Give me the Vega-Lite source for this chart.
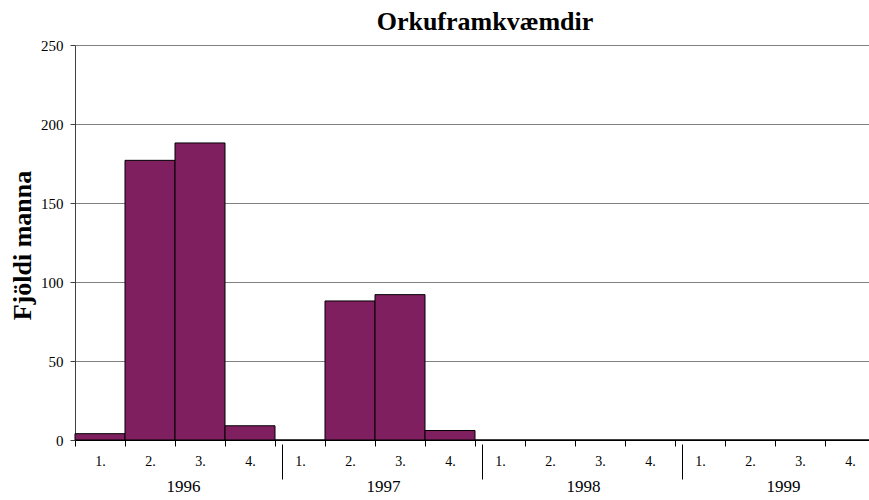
{
  "$schema": "https://vega.github.io/schema/vega-lite/v6.json",
  "width": 800,
  "height": 395,
  "autosize": {"type": "none"},
  "padding": {"left": 75, "top": 45, "right": -6, "bottom": 60},
  "background": "white",
  "config": {"font": "Liberation Serif", "view": {"stroke": null}},
  "title": {
    "text": "Orkuframkvæmdir",
    "font": "Liberation Serif",
    "fontSize": 26,
    "fontWeight": "bold",
    "color": "black",
    "offset": -18,
    "baseline": "alphabetic",
    "dx": 10
  },
  "data": {
    "values": [
      {"period": "1996-1", "year": "1996", "value": 4},
      {"period": "1996-2", "year": "1996", "value": 177},
      {"period": "1996-3", "year": "1996", "value": 188},
      {"period": "1996-4", "year": "1996", "value": 9},
      {"period": "1997-1", "year": "1997", "value": 0},
      {"period": "1997-2", "year": "1997", "value": 88},
      {"period": "1997-3", "year": "1997", "value": 92},
      {"period": "1997-4", "year": "1997", "value": 6},
      {"period": "1998-1", "year": "1998", "value": 0},
      {"period": "1998-2", "year": "1998", "value": 0},
      {"period": "1998-3", "year": "1998", "value": 0},
      {"period": "1998-4", "year": "1998", "value": 0},
      {"period": "1999-1", "year": "1999", "value": 0},
      {"period": "1999-2", "year": "1999", "value": 0},
      {"period": "1999-3", "year": "1999", "value": 0},
      {"period": "1999-4", "year": "1999", "value": 0}
    ]
  },
  "layer": [
    {
      "mark": {"type": "bar", "color": "#7f1f5f", "stroke": "black", "strokeWidth": 1},
      "encoding": {
        "x": {
          "field": "period",
          "type": "nominal",
          "sort": null,
          "scale": {"paddingInner": 0, "paddingOuter": 0},
          "axis": {
            "title": null,
            "labelExpr": "datum.value ? split(datum.value, '-')[1] + '.' : ''",
            "tickBand": "extent",
            "tickSize": 6,
            "tickColor": "black",
            "domainColor": "black",
            "labelAngle": 0,
            "labelFontSize": 14,
            "labelPadding": 8,
            "labelColor": "black",
            "labelFont": "Liberation Serif",
            "grid": false
          }
        },
        "y": {
          "field": "value",
          "type": "quantitative",
          "scale": {"domain": [0, 250], "nice": false},
          "axis": {
            "values": [0, 50, 100, 150, 200, 250],
            "title": "Fjöldi manna",
            "titleFont": "Liberation Serif",
            "titleFontSize": 26,
            "titleFontWeight": "bold",
            "titleColor": "black",
            "titleX": -53,
            "titleY": 200,
            "titleAlign": "center",
            "titleBaseline": "middle",
            "titleAngle": -90,
            "labelFontSize": 15,
            "labelFont": "Liberation Serif",
            "labelColor": "black",
            "labelPadding": 7,
            "tickSize": 5,
            "tickColor": "#404040",
            "domainColor": "#404040",
            "grid": true,
            "gridColor": "#808080",
            "gridOpacity": 1
          }
        }
      }
    },
    {
      "mark": {"type": "point", "opacity": 0},
      "encoding": {
        "x": {
          "field": "year",
          "type": "nominal",
          "sort": null,
          "scale": {"paddingInner": 0, "paddingOuter": 0},
          "axis": {
            "orient": "bottom",
            "title": null,
            "domain": false,
            "grid": false,
            "tickSize": 35,
            "tickOffset": -93,
            "tickColor": "black",
            "tickWidth": 1,
            "tickOpacity": {"condition": {"test": "datum.value === '1996'", "value": 0}, "value": 1},
            "offset": 4,
            "labelAngle": 0,
            "labelPadding": -1,
            "labelOffset": 101,
            "labelFontSize": 17,
            "labelFont": "Liberation Serif",
            "labelColor": "black"
          }
        },
        "y": {"field": "value", "type": "quantitative", "scale": {"domain": [0, 250], "nice": false}}
      }
    }
  ],
  "resolve": {"scale": {"x": "independent"}}
}
